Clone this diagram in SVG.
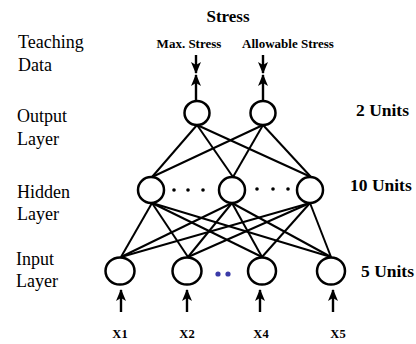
<svg xmlns="http://www.w3.org/2000/svg" width="416" height="344" viewBox="0 0 416 344">
<defs>
<marker id="ah" viewBox="0 0 12 10" refX="11" refY="5" markerWidth="12" markerHeight="10" markerUnits="userSpaceOnUse" orient="auto">
<path d="M0,0 L12,5 L0,10 L3,5 z" fill="#000"/>
</marker>
<style>
.lbl{font-family:"Liberation Serif","Times New Roman",serif;font-size:18px;fill:#000}
.b{font-family:"Liberation Serif","Times New Roman",serif;font-weight:bold;fill:#000}
.node{fill:#fff;stroke:#000;stroke-width:2.5}
.edge{stroke:#000;stroke-width:2;fill:none}
.arr{stroke:#000;stroke-width:2.4;fill:none;marker-end:url(#ah)}
.dot{fill:#000}
.bdot{fill:#3a3aa8}
</style>
</defs>
<rect width="416" height="344" fill="#fff"/>

<!-- labels -->
<text class="b" x="228" y="22" font-size="17" text-anchor="middle">Stress</text>
<text class="b" x="189" y="48" font-size="13" text-anchor="middle">Max. Stress</text>
<text class="b" x="288" y="48" font-size="13" text-anchor="middle">Allowable Stress</text>
<text class="lbl" x="18" y="48">Teaching</text>
<text class="lbl" x="18" y="71">Data</text>
<text class="lbl" x="17" y="122">Output</text>
<text class="lbl" x="17" y="145">Layer</text>
<text class="lbl" x="17" y="198">Hidden</text>
<text class="lbl" x="17" y="220">Layer</text>
<text class="lbl" x="16" y="265">Input</text>
<text class="lbl" x="16" y="287">Layer</text>
<text class="b" x="356" y="116" font-size="17.5">2 Units</text>
<text class="b" x="350" y="191" font-size="17.5">10 Units</text>
<text class="b" x="361" y="277" font-size="17.5">5 Units</text>
<text class="b" x="120" y="338" font-size="12.5" text-anchor="middle">X1</text>
<text class="b" x="187" y="338" font-size="12.5" text-anchor="middle">X2</text>
<text class="b" x="261" y="338" font-size="12.5" text-anchor="middle">X4</text>
<text class="b" x="338" y="338" font-size="12.5" text-anchor="middle">X5</text>

<g id="connectors">
<!-- output to hidden -->
<line class="edge" x1="197" y1="125" x2="152" y2="177"/>
<line class="edge" x1="197" y1="125" x2="233" y2="177"/>
<line class="edge" x1="197" y1="125" x2="311" y2="177"/>
<line class="edge" x1="263" y1="125" x2="152" y2="177"/>
<line class="edge" x1="263" y1="125" x2="233" y2="177"/>
<line class="edge" x1="263" y1="125" x2="311" y2="177"/>
<!-- hidden to input -->
<line class="edge" x1="152" y1="203" x2="121" y2="257"/>
<line class="edge" x1="152" y1="203" x2="188" y2="257"/>
<line class="edge" x1="152" y1="203" x2="262" y2="257"/>
<line class="edge" x1="152" y1="203" x2="331" y2="257"/>
<line class="edge" x1="232" y1="203" x2="121" y2="257"/>
<line class="edge" x1="232" y1="203" x2="188" y2="257"/>
<line class="edge" x1="232" y1="203" x2="262" y2="257"/>
<line class="edge" x1="232" y1="203" x2="331" y2="257"/>
<line class="edge" x1="310" y1="203" x2="121" y2="257"/>
<line class="edge" x1="310" y1="203" x2="188" y2="257"/>
<line class="edge" x1="310" y1="203" x2="262" y2="257"/>
<line class="edge" x1="310" y1="203" x2="331" y2="257"/>
<!-- teaching arrows -->
<line class="arr" x1="196" y1="55" x2="196" y2="73"/>
<line class="arr" x1="196" y1="101" x2="196" y2="75"/>
<line class="arr" x1="263" y1="55" x2="263" y2="73"/>
<line class="arr" x1="263" y1="101" x2="263" y2="75"/>
<!-- input arrows -->
<line class="arr" x1="121" y1="312" x2="121" y2="290"/>
<line class="arr" x1="187" y1="312" x2="187" y2="290"/>
<line class="arr" x1="260" y1="312" x2="260" y2="290"/>
<line class="arr" x1="333" y1="312" x2="333" y2="290"/>
</g>

<g id="out1"><ellipse class="node" cx="197" cy="113" rx="12.5" ry="12"/></g>
<g id="out2"><ellipse class="node" cx="263" cy="113" rx="12.5" ry="12"/></g>

<g id="hid1"><circle class="node" cx="151" cy="190" r="13"/></g>
<g id="hid2"><circle class="node" cx="232" cy="190" r="13"/></g>
<g id="hid3"><circle class="node" cx="310" cy="190" r="13"/></g>
<g id="hid-dots">
<circle class="dot" cx="174" cy="190" r="1.8"/>
<circle class="dot" cx="188" cy="190" r="1.8"/>
<circle class="dot" cx="203" cy="190" r="1.8"/>
<circle class="dot" cx="257" cy="189" r="1.8"/>
<circle class="dot" cx="273" cy="189" r="1.8"/>
<circle class="dot" cx="288" cy="189" r="1.8"/>
</g>

<g id="in1"><ellipse class="node" cx="120" cy="271" rx="14.5" ry="13.5"/></g>
<g id="in2"><ellipse class="node" cx="187" cy="271" rx="14.5" ry="13.5"/></g>
<g id="in4"><ellipse class="node" cx="262" cy="271" rx="14" ry="13.5"/></g>
<g id="in5"><ellipse class="node" cx="331" cy="271" rx="14" ry="13.5"/></g>
<g id="in-dots">
<circle class="bdot" cx="218" cy="274" r="2.6"/>
<circle class="bdot" cx="228" cy="274" r="2.6"/>
</g>
</svg>
